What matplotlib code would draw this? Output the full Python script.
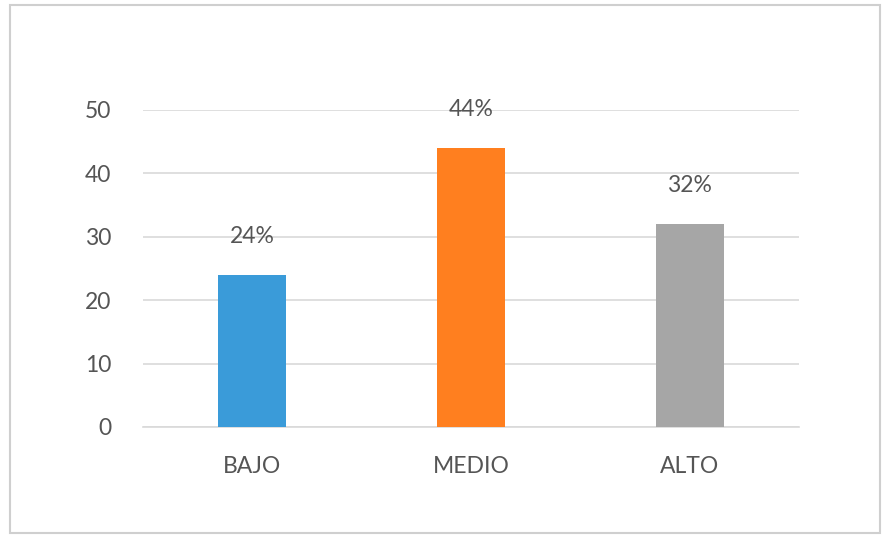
import matplotlib.pyplot as plt
from matplotlib.patches import Rectangle

categories = ["BAJO", "MEDIO", "ALTO"]
values = [24, 44, 32]
labels = ["24%", "44%", "32%"]
colors = ["#3A9BD9", "#FF7F1F", "#A6A6A6"]
yticks = [0, 10, 20, 30, 40, 50]

plt.rcParams['font.family'] = ['Lato', 'DejaVu Sans']

fig = plt.figure(figsize=(8.82, 5.35), dpi=100)
ax = fig.add_axes([0.1621, 0.2019, 0.7438, 0.5925])

x = range(len(categories))
bars = ax.bar(x, values, width=0.31, color=colors, zorder=3)

for b, lab in zip(bars, labels):
  ax.annotate(lab, (b.get_x() + b.get_width() / 2, b.get_height()),
              xytext=(0, 20), textcoords='offset points',
              ha='center', va='bottom', fontsize=16.5, color='#555555')

ax.set_xlim(-0.5, 2.5)
ax.set_ylim(0, 50)
ax.set_yticks(yticks)
ax.set_xticks(list(x))
ax.set_xticklabels(categories)
ax.tick_params(axis='both', length=0, labelsize=16.5, labelcolor='#555555')
ax.tick_params(axis='y', pad=23)
ax.tick_params(axis='x', pad=21)
ax.grid(axis='y', color='#D9D9D9', linewidth=1.2, zorder=0)
for s in ['top', 'right', 'left']:
  ax.spines[s].set_visible(False)
ax.spines['bottom'].set_color('#D9D9D9')
ax.spines['bottom'].set_linewidth(1.2)

# outer chart border
fig.patches.append(Rectangle((10 / 882, 2 / 535), 870 / 882, 528 / 535,
                             transform=fig.transFigure, fill=False,
                             edgecolor='#CFCFCF', linewidth=1.5))

plt.savefig("out.png", dpi=100)
